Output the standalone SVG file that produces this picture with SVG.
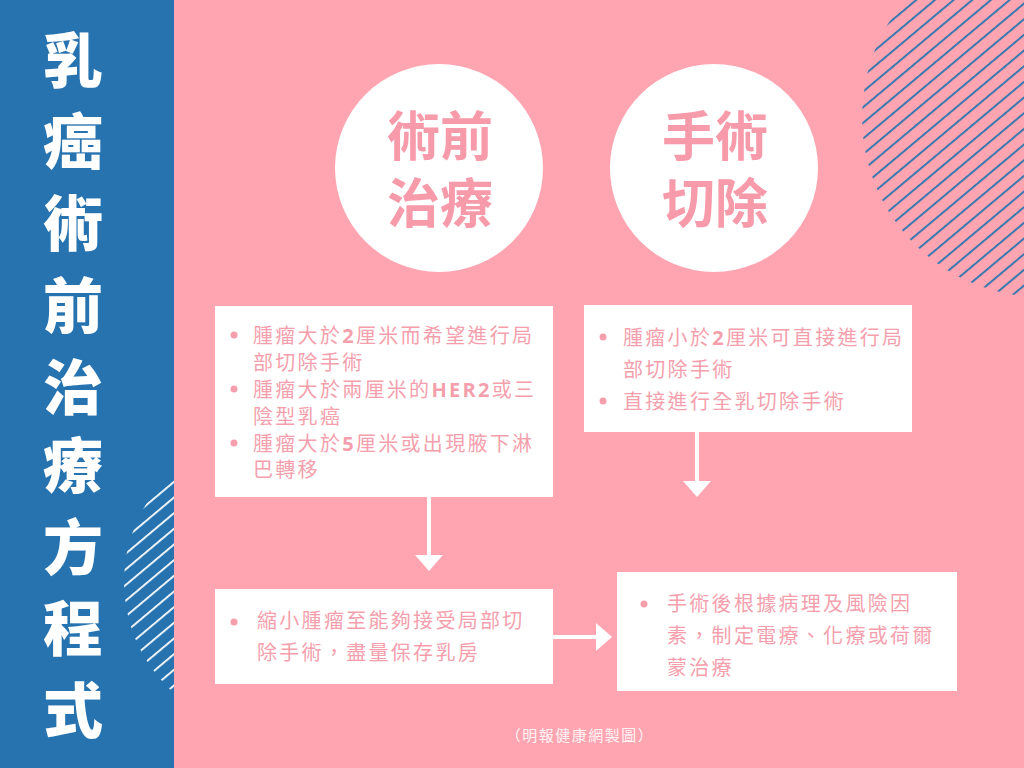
<svg xmlns="http://www.w3.org/2000/svg" width="1024" height="768" viewBox="0 0 1024 768">
  <defs>
    <style>
      .title { font-family: "Noto Sans CJK TC", "Noto Sans CJK SC", sans-serif; font-weight: 900; font-size: 60px; fill: #ffffff; text-anchor: middle; }
      .head { font-family: "Noto Sans CJK TC", "Noto Sans CJK SC", sans-serif; font-weight: 700; font-size: 53px; fill: #F79AAA; text-anchor: middle; }
      .box { fill: #ffffff; }
      .txt { font-family: "Noto Sans CJK TC", "Noto Sans CJK SC", sans-serif; font-weight: 400; font-size: 20px; fill: #F59FAD; letter-spacing: 2.3px; }
      .num { font-family: "Open Sans", "Liberation Sans", sans-serif; font-weight: 700; }
      .dot { fill: #F59FAD; }
      .conn { stroke: #ffffff; stroke-width: 4; fill: none; }
      .foot { font-family: "Noto Sans CJK TC", "Noto Sans CJK SC", sans-serif; font-size: 15px; fill: #ffffff; fill-opacity: 0.9; letter-spacing: 1.5px; text-anchor: middle; }
    </style>
    <pattern id="stripeBlue" patternUnits="userSpaceOnUse" width="12" height="12" patternTransform="rotate(-40)">
      <rect x="0" y="0" width="12" height="1.8" fill="#2673B0"/>
    </pattern>
    <pattern id="stripeWhite" patternUnits="userSpaceOnUse" width="12" height="12" patternTransform="rotate(-40)">
      <rect x="0" y="0" width="12" height="1.8" fill="#ffffff"/>
    </pattern>
    <clipPath id="panelClip">
      <rect x="0" y="0" width="174" height="768"/>
    </clipPath>
    <marker id="head" viewBox="0 0 16 28" markerWidth="16" markerHeight="28" refX="0" refY="14" markerUnits="userSpaceOnUse" orient="auto">
      <path d="M0,0 L16,14 L0,28 Z" fill="#ffffff"/>
    </marker>
  </defs>

  <!-- background -->
  <rect x="0" y="0" width="1024" height="768" fill="#FFA5B1"/>
  <circle cx="1042" cy="117" r="180" fill="url(#stripeBlue)"/>

  <!-- left panel -->
  <rect x="0" y="0" width="174" height="768" fill="#2673B0"/>
  <circle cx="272" cy="582" r="148" fill="url(#stripeWhite)" clip-path="url(#panelClip)"/>

  <g id="title">
    <text class="title" x="73" y="83">乳</text>
    <text class="title" x="73" y="164">癌</text>
    <text class="title" x="73" y="246">術</text>
    <text class="title" x="73" y="328">前</text>
    <text class="title" x="73" y="410">治</text>
    <text class="title" x="73" y="488">療</text>
    <text class="title" x="73" y="570">方</text>
    <text class="title" x="73" y="651">程</text>
    <text class="title" x="73" y="733">式</text>
  </g>

  <g id="node-preop">
    <circle cx="439" cy="168" r="104" fill="#ffffff"/>
    <text class="head" x="440" y="156">術前<tspan x="440" y="223">治療</tspan></text>
  </g>

  <g id="node-surgery">
    <circle cx="714" cy="168" r="104" fill="#ffffff"/>
    <text class="head" x="715" y="156">手術<tspan x="715" y="223">切除</tspan></text>
  </g>

  <g id="node-box1">
    <rect class="box" x="215" y="306" width="338" height="191"/>
    <circle class="dot" cx="234" cy="335" r="3.5"/>
    <circle class="dot" cx="234" cy="389" r="3.5"/>
    <circle class="dot" cx="234" cy="443" r="3.5"/>
    <text class="txt" x="253" y="343">腫瘤大於<tspan class="num">2</tspan>厘米而希望進行局<tspan x="253" y="370">部切除手術</tspan><tspan x="253" y="397">腫瘤大於兩厘米的<tspan class="num">HER2</tspan>或三</tspan><tspan x="253" y="424">陰型乳癌</tspan><tspan x="253" y="451">腫瘤大於<tspan class="num">5</tspan>厘米或出現腋下淋</tspan><tspan x="253" y="477">巴轉移</tspan></text>
  </g>

  <g id="node-box2">
    <rect class="box" x="584" y="305" width="328" height="127"/>
    <circle class="dot" cx="603" cy="337" r="3.5"/>
    <circle class="dot" cx="603" cy="401" r="3.5"/>
    <text class="txt" x="623" y="345">腫瘤小於<tspan class="num">2</tspan>厘米可直接進行局<tspan x="623" y="377">部切除手術</tspan><tspan x="623" y="409">直接進行全乳切除手術</tspan></text>
  </g>

  <g id="node-box3">
    <rect class="box" x="215" y="589" width="338" height="95"/>
    <circle class="dot" cx="234" cy="622" r="3.5"/>
    <text class="txt" x="257" y="628">縮小腫瘤至能夠接受局部切<tspan x="257" y="660">除手術，盡量保存乳房</tspan></text>
  </g>

  <g id="node-box4">
    <rect class="box" x="617" y="572" width="340" height="119"/>
    <circle class="dot" cx="644" cy="604" r="3.5"/>
    <text class="txt" x="667" y="611">手術後根據病理及風險因<tspan x="667" y="643">素，制定電療、化療或荷爾</tspan><tspan x="667" y="675">蒙治療</tspan></text>
  </g>

  <g id="connectors">
    <line class="conn" x1="429" y1="497" x2="429" y2="555" marker-end="url(#head)"/>
    <line class="conn" x1="697" y1="432" x2="697" y2="481" marker-end="url(#head)"/>
    <line class="conn" x1="553" y1="637" x2="596" y2="637" marker-end="url(#head)"/>
  </g>

  <text class="foot" x="580" y="741">（明報健康網製圖）</text>
</svg>
